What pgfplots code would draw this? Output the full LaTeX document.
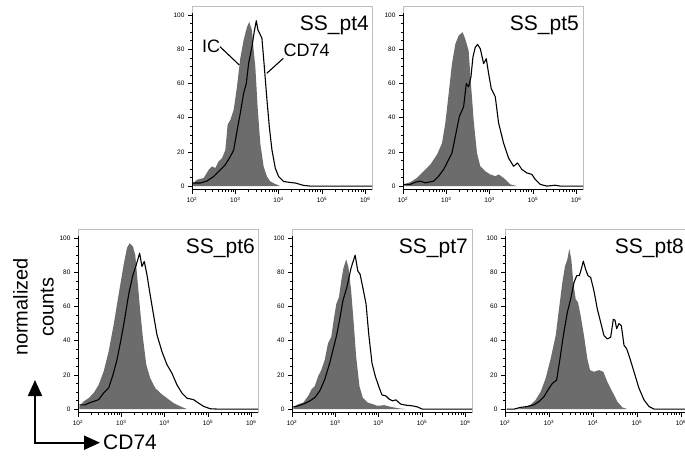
\documentclass[border=0pt]{standalone}
\usepackage{fontspec}
\setmainfont{Liberation Sans}
\usepackage{pgfplots}
\pgfplotsset{compat=1.18}
\usetikzlibrary{arrows.meta}
\definecolor{icgray}{RGB}{108,108,108}
\pgfplotsset{
  panel/.style={scale only axis,width=180pt,height=183.5pt,anchor=south west,
    xmin=2,xmax=6.157,ymin=-2,ymax=105.3,
    axis line style={draw=gray!50,line width=0.5pt},
    xtick={2,3,4,5,6},
    xticklabels={10\textsuperscript{2},10\textsuperscript{3},10\textsuperscript{4},10\textsuperscript{5},10\textsuperscript{6}},
    minor xtick={2.301,2.477,2.602,2.699,2.778,2.845,2.903,2.954,3.301,3.477,3.602,3.699,3.778,3.845,3.903,3.954,4.301,4.477,4.602,4.699,4.778,4.845,4.903,4.954,5.301,5.477,5.602,5.699,5.778,5.845,5.903,5.954},
    ytick={0,20,40,60,80,100},minor y tick num=3,
    tick align=outside,xtick pos=bottom,ytick pos=left,
    major tick length=4pt,minor tick length=2.2pt,
    tick style={black,line width=0.5pt},
    tick label style={font=\fontsize{6.5}{6.5}\selectfont},
    /pgf/number format/assume math mode=true},
  ic/.style={fill=icgray,draw=none},
  cd/.style={black,line width=1.1pt,line join=round}}
\newcommand{\frameaxes}{\draw[black,line width=0.9pt] (axis cs:2,101) -- (rel axis cs:0,0) -- (rel axis cs:1,0);}
\newcommand{\paneltitle}[2][-4pt]{\node[anchor=north east,inner sep=0pt,xshift=#1,yshift=-10pt,font=\fontsize{21}{21}\selectfont] at (rel axis cs:1,1) {#2};}

\begin{document}
\begin{tikzpicture}
\useasboundingbox (0pt,0pt) rectangle (685pt,459pt);

% SS_pt4
\begin{axis}[panel,at={(192pt,269.5pt)}]
\addplot[ic] coordinates {(2.000,0)(2.000,1)(2.115,3.7)(2.269,4.7)(2.385,9.5)(2.462,11.5)(2.538,10.5)(2.615,14.4)(2.692,16.3)(2.769,21)(2.823,36)(2.885,38.7)(2.962,44.5)(3.038,58)(3.115,74.7)(3.192,85.4)(3.269,93)(3.323,96)(3.385,91)(3.423,79.5)(3.462,70)(3.515,46.5)(3.577,25)(3.654,11.5)(3.731,5.6)(3.808,2.7)(3.923,1.2)(4.038,0)} \closedcycle;
\addplot[cd] coordinates {(2.000,1.8)(2.192,1.8)(2.346,3)(2.5,5.6)(2.654,9.5)(2.769,12.5)(2.885,17.3)(2.962,21)(3.038,32)(3.115,42.6)(3.192,54.3)(3.254,60)(3.308,71.8)(3.385,81.5)(3.438,90.3)(3.485,96.7)(3.523,91.2)(3.562,89.3)(3.615,86.4)(3.669,70)(3.731,50.4)(3.785,34.8)(3.846,21.2)(3.923,10.5)(4.0,5.6)(4.115,2.7)(4.269,2.1)(4.385,1.8)(4.577,0.4)(4.731,0)(6.2,0)};
\frameaxes
\paneltitle[-3pt]{SS\_pt4}
\node[font=\fontsize{18}{18}\selectfont,inner sep=0pt] at (axis cs:2.44,81.9) {IC};
\draw[black,line width=1.1pt] (axis cs:2.647,81.5) -- (axis cs:3.092,70.8);
\node[font=\fontsize{18}{18}\selectfont,inner sep=0pt] at (axis cs:4.649,79.4) {CD74};
\draw[black,line width=1.1pt] (axis cs:4.109,74.7) -- (axis cs:3.725,65.9);
\end{axis}

% SS_pt5
\begin{axis}[panel,at={(403pt,269.5pt)}]
\addplot[ic] coordinates {(2.015,0)(2.015,1)(2.169,2.3)(2.323,4.8)(2.477,8.7)(2.631,12.6)(2.785,18.4)(2.9,25)(2.977,36.8)(3.054,54)(3.131,71.6)(3.208,83)(3.285,88)(3.377,90)(3.438,86)(3.515,79.3)(3.569,60)(3.631,38.7)(3.708,19.3)(3.785,11.6)(3.9,8.7)(4.015,6.8)(4.131,5.8)(4.208,6.8)(4.323,4.8)(4.477,1)(4.631,0)} \closedcycle;
\addplot[cd] coordinates {(2.015,1)(2.169,1)(2.285,2.3)(2.4,2.9)(2.515,1.9)(2.708,2.9)(2.823,5.8)(2.938,9.7)(3.054,15.5)(3.131,19.3)(3.208,29)(3.3,40.6)(3.4,46.4)(3.462,60)(3.515,58)(3.569,63.8)(3.615,75.4)(3.669,81.2)(3.723,82.8)(3.785,80.3)(3.862,71.6)(3.923,74.5)(3.977,65.8)(4.038,57)(4.131,52.2)(4.208,36.8)(4.323,25.1)(4.438,16.4)(4.554,11.6)(4.646,13.5)(4.746,9.7)(4.862,7.7)(4.977,6.8)(5.054,3.9)(5.169,1)(5.323,0)(5.515,0.5)(5.631,0)(6.2,0)};
\frameaxes
\paneltitle{SS\_pt5}
\end{axis}

% SS_pt6
\begin{axis}[panel,at={(78pt,46.5pt)}]
\addplot[ic] coordinates {(2.031,0)(2.031,1.6)(2.131,4.5)(2.246,6.4)(2.362,9.4)(2.477,14.2)(2.592,22)(2.708,33.7)(2.823,49.3)(2.938,66.9)(3.054,84.4)(3.131,94.2)(3.192,97)(3.269,95)(3.323,90)(3.377,74.5)(3.438,57)(3.5,41.5)(3.577,26)(3.669,18)(3.785,12.3)(3.9,9.4)(4.054,6.4)(4.208,3.5)(4.362,1.6)(4.515,0)} \closedcycle;
\addplot[cd] coordinates {(2.031,2.5)(2.169,2.5)(2.246,3.5)(2.362,4.5)(2.477,5.5)(2.592,9.4)(2.708,12.3)(2.808,20)(2.9,28.8)(2.992,40.5)(3.069,51.3)(3.169,66.9)(3.269,78.6)(3.346,84.4)(3.423,91.2)(3.477,83.4)(3.531,86.3)(3.592,78.6)(3.654,68.8)(3.731,57.1)(3.823,43.5)(3.938,33.7)(4.054,26)(4.169,21)(4.285,14.2)(4.4,9.4)(4.515,6.4)(4.669,5.5)(4.785,3.5)(4.9,1.6)(5.054,0.2)(5.208,0)(6.2,0)};
\frameaxes
\paneltitle[-3pt]{SS\_pt6}
\end{axis}

% SS_pt7
\begin{axis}[panel,at={(292pt,46.5pt)}]
\addplot[ic] coordinates {(2.031,0)(2.031,1)(2.145,2.9)(2.26,3.8)(2.374,7.7)(2.45,11.5)(2.527,13.5)(2.603,19.2)(2.679,23)(2.756,28.8)(2.832,38.5)(2.908,42.3)(2.962,52)(3.023,61.5)(3.084,65.4)(3.137,75)(3.191,82.7)(3.252,87.5)(3.305,82.7)(3.366,69.2)(3.42,52)(3.481,30.8)(3.557,13.5)(3.634,6.7)(3.748,3.8)(3.863,2.9)(3.977,1.9)(4.13,2.3)(4.282,1.3)(4.473,0.4)(4.626,0)} \closedcycle;
\addplot[cd] coordinates {(2.031,1.3)(2.145,1.9)(2.26,2.9)(2.412,4.8)(2.527,6.7)(2.641,10.6)(2.756,17.3)(2.87,26.9)(2.947,34.6)(3.023,42.3)(3.099,52)(3.176,63.5)(3.267,71.2)(3.366,82.7)(3.458,90)(3.519,80.8)(3.573,78.8)(3.634,71.2)(3.71,61.5)(3.771,44.2)(3.847,26.9)(3.924,19.2)(4.0,13.5)(4.076,8.3)(4.168,7.7)(4.244,5.8)(4.321,4.8)(4.397,5.4)(4.511,2.9)(4.626,2.3)(4.779,1.9)(4.893,1.3)(5.008,0)(6.2,0)};
\frameaxes
\paneltitle{SS\_pt7}
\end{axis}

% SS_pt8
\begin{axis}[panel,at={(505pt,46.5pt)},width=185pt,xmax=6.205]
\addplot[ic] coordinates {(2.053,0)(2.28,0)(2.432,1)(2.583,2.5)(2.697,5.4)(2.811,10.2)(2.924,18)(3.038,29.5)(3.152,43)(3.227,58.5)(3.303,74)(3.364,83.6)(3.417,87.5)(3.462,93.6)(3.508,87.5)(3.553,74)(3.606,64.3)(3.659,62.4)(3.72,54.6)(3.795,43)(3.871,29.5)(3.932,22.8)(4.023,21.8)(4.136,22.8)(4.235,21.8)(4.326,16)(4.439,10.2)(4.553,4.4)(4.667,1)(4.78,0)} \closedcycle;
\addplot[cd] coordinates {(2.038,0)(2.205,0)(2.356,1)(2.508,1.5)(2.659,2.5)(2.773,4.4)(2.886,7.3)(2.977,11.2)(3.076,15)(3.174,17)(3.25,29.5)(3.326,43)(3.417,56.6)(3.492,64.3)(3.568,74)(3.629,78)(3.689,78)(3.742,82.6)(3.78,86.5)(3.833,81.7)(3.886,78)(3.947,77)(4.023,69)(4.098,58.5)(4.174,50.8)(4.25,43)(4.326,41)(4.402,42)(4.462,52.5)(4.5,52)(4.538,47)(4.591,50)(4.644,48.8)(4.705,37.3)(4.765,35.3)(4.841,29.5)(4.932,21.8)(5.045,12.2)(5.159,5.4)(5.273,1.5)(5.386,0)(6.2,0)};
\frameaxes
\paneltitle[-6pt]{SS\_pt8}
\end{axis}

% axis key
\draw[line width=2pt,{Triangle[length=16pt,width=14pt]}-{Triangle[length=16pt,width=14pt]}] (35pt,79pt) -- (35pt,16.3pt) -- (100pt,16.3pt);
\node[anchor=west,inner sep=0pt,font=\fontsize{21}{21}\selectfont] at (103pt,16.5pt) {CD74};
\node[rotate=90,align=center,inner sep=0pt,font=\fontsize{20}{26}\selectfont] at (33.5pt,152pt) {normalized\\counts};
\end{tikzpicture}
\end{document}
